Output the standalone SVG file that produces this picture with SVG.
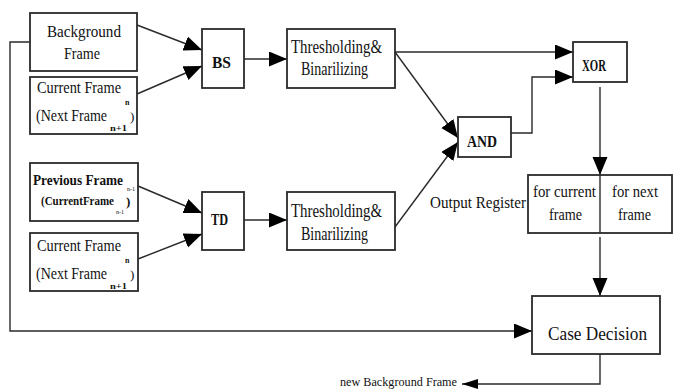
<svg xmlns="http://www.w3.org/2000/svg" width="674" height="390" viewBox="0 0 674 390">
<style>
.box{fill:#fff;stroke:#2a2a2a;stroke-width:1.8}
.ln{fill:none;stroke:#2a2a2a;stroke-width:1.4}
text{font-family:"Liberation Serif","Times New Roman",serif;fill:#111}
.b{font-weight:bold}
.sub{font-size:8px}
</style>
<defs>
<marker id="ah" markerUnits="userSpaceOnUse" markerWidth="19" markerHeight="16" refX="18" refY="7.5" orient="auto">
<path d="M0,0 L18,7.5 L0,15 z" fill="#000"/>
</marker>
<marker id="ahs" markerUnits="userSpaceOnUse" markerWidth="17" markerHeight="11" refX="16" refY="5" orient="auto">
<path d="M0,0 L16,5 L0,10 z" fill="#000"/>
</marker>
</defs>
<rect width="674" height="390" fill="#fff"/>
<g id="connectors">
<line class="ln" x1="137" y1="25" x2="202" y2="50" marker-end="url(#ah)"/>
<line class="ln" x1="137" y1="94" x2="202" y2="66" marker-end="url(#ah)"/>
<line class="ln" x1="244" y1="59" x2="287" y2="59" marker-end="url(#ah)"/>
<line class="ln" x1="138" y1="186" x2="202" y2="213" marker-end="url(#ah)"/>
<line class="ln" x1="138" y1="259" x2="202" y2="234" marker-end="url(#ah)"/>
<line class="ln" x1="244" y1="220" x2="287" y2="220" marker-end="url(#ah)"/>
<line class="ln" x1="395" y1="52" x2="573" y2="52" marker-end="url(#ah)"/>
<line class="ln" x1="395" y1="52" x2="458" y2="138" marker-end="url(#ah)"/>
<line class="ln" x1="395" y1="227" x2="458" y2="142" marker-end="url(#ah)"/>
<polyline class="ln" points="511,133 532,133 532,77 573,77" marker-end="url(#ah)"/>
<line class="ln" x1="600" y1="87" x2="600" y2="175" marker-end="url(#ah)"/>
<line class="ln" x1="600" y1="237" x2="600" y2="296" marker-end="url(#ah)"/>
<polyline class="ln" points="30,42 10,42 10,331 532,331" marker-end="url(#ah)"/>
<polyline class="ln" points="600,354 600,384 462,384" marker-end="url(#ahs)"/>
</g>
<g id="background-frame">
<rect class="box" x="30" y="13" width="107" height="58"/>
<text x="47" y="37" font-size="17" textLength="74" lengthAdjust="spacingAndGlyphs">Background</text>
<text x="64" y="59" font-size="17" textLength="36" lengthAdjust="spacingAndGlyphs">Frame</text>
</g>
<g id="current-frame-1">
<rect class="box" x="30" y="77" width="107" height="57"/>
<text x="37" y="93" font-size="17" textLength="84" lengthAdjust="spacingAndGlyphs">Current Frame</text>
<text x="125" y="105" class="sub b">n</text>
<text x="36" y="121" font-size="17" textLength="71" lengthAdjust="spacingAndGlyphs">(Next Frame</text>
<text x="130" y="121" font-size="13">)</text>
<text x="110" y="131" class="sub b" textLength="17" lengthAdjust="spacingAndGlyphs">n+1</text>
</g>
<g id="previous-frame">
<rect class="box" x="30" y="163" width="108" height="58"/>
<text x="33" y="185" class="b" font-size="14" textLength="90" lengthAdjust="spacingAndGlyphs">Previous Frame</text>
<text x="127" y="191" font-size="6">n-1</text>
<text x="41" y="205" class="b" font-size="13" textLength="73" lengthAdjust="spacingAndGlyphs">(CurrentFrame</text>
<text x="116" y="214" font-size="6">n-1</text>
<text x="126" y="206" class="b" font-size="13">)</text>
</g>
<g id="current-frame-2">
<rect class="box" x="30" y="233" width="108" height="58"/>
<text x="37" y="251" font-size="17" textLength="84" lengthAdjust="spacingAndGlyphs">Current Frame</text>
<text x="125" y="263" class="sub b">n</text>
<text x="36" y="279" font-size="17" textLength="71" lengthAdjust="spacingAndGlyphs">(Next Frame</text>
<text x="130" y="279" font-size="13">)</text>
<text x="110" y="289" class="sub b" textLength="17" lengthAdjust="spacingAndGlyphs">n+1</text>
</g>
<g id="bs">
<rect class="box" x="202" y="29" width="42" height="59"/>
<text x="212" y="68" class="b" font-size="17" textLength="19" lengthAdjust="spacingAndGlyphs">BS</text>
</g>
<g id="threshold-1">
<rect class="box" x="287" y="29" width="108" height="59"/>
<text x="291" y="53" font-size="18" textLength="91" lengthAdjust="spacingAndGlyphs">Thresholding&amp;</text>
<text x="301" y="75" font-size="18" textLength="67" lengthAdjust="spacingAndGlyphs">Binarilizing</text>
</g>
<g id="td">
<rect class="box" x="202" y="192" width="42" height="58"/>
<text x="211" y="225" class="b" font-size="17" textLength="17" lengthAdjust="spacingAndGlyphs">TD</text>
</g>
<g id="threshold-2">
<rect class="box" x="287" y="192" width="108" height="58"/>
<text x="291" y="217" font-size="18" textLength="91" lengthAdjust="spacingAndGlyphs">Thresholding&amp;</text>
<text x="301" y="240" font-size="18" textLength="67" lengthAdjust="spacingAndGlyphs">Binarilizing</text>
</g>
<g id="and">
<rect class="box" x="458" y="117" width="53" height="40"/>
<text x="467" y="147" class="b" font-size="17" textLength="30" lengthAdjust="spacingAndGlyphs">AND</text>
</g>
<g id="xor">
<rect class="box" x="573" y="42" width="54" height="40"/>
<text x="582" y="71" class="b" font-size="17" textLength="24" lengthAdjust="spacingAndGlyphs">XOR</text>
</g>
<g id="output-register">
<text x="430" y="208" font-size="17" textLength="96" lengthAdjust="spacingAndGlyphs">Output Register</text>
<rect class="box" x="528" y="175" width="144" height="58"/>
<line class="ln" x1="600" y1="175" x2="600" y2="233" stroke-width="1.8"/>
<text x="533" y="197" font-size="17" textLength="63" lengthAdjust="spacingAndGlyphs">for current</text>
<text x="549" y="220" font-size="17" textLength="33" lengthAdjust="spacingAndGlyphs">frame</text>
<text x="612" y="197" font-size="17" textLength="46" lengthAdjust="spacingAndGlyphs">for next</text>
<text x="618" y="220" font-size="17" textLength="33" lengthAdjust="spacingAndGlyphs">frame</text>
</g>
<g id="case-decision">
<rect class="box" x="532" y="296" width="128" height="58"/>
<text x="548" y="340" font-size="19" textLength="99" lengthAdjust="spacingAndGlyphs">Case Decision</text>
</g>
<g id="new-background">
<text x="340" y="386" font-size="13" textLength="117" lengthAdjust="spacingAndGlyphs">new Background Frame</text>
</g>
</svg>
